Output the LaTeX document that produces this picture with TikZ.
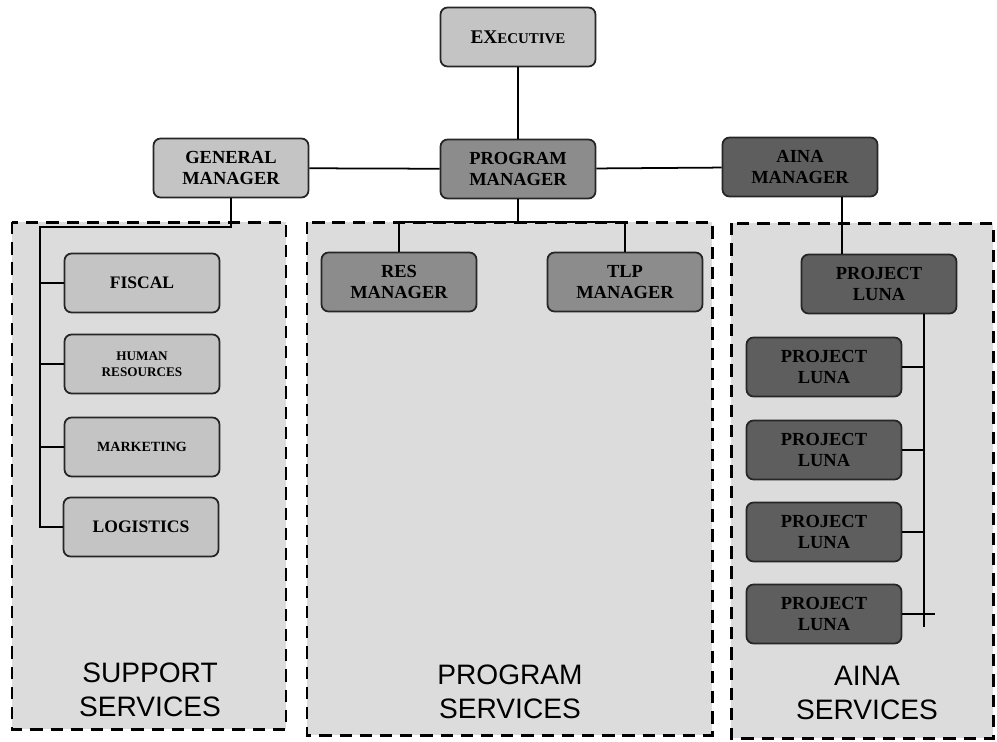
\documentclass[tikz,border=0pt]{standalone}
\usepackage{fontspec}
\setmainfont{Liberation Serif}
\setsansfont{Liberation Sans}
\definecolor{lightbox}{HTML}{C4C4C4}
\definecolor{midbox}{HTML}{8C8C8C}
\definecolor{darkbox}{HTML}{5E5E5E}
\definecolor{regionfill}{HTML}{DCDCDC}
\begin{document}
\begin{tikzpicture}[x=0.02cm,y=-0.02cm,
    box/.style={draw=black!85,line width=1pt,rounded corners=4pt,minimum width=3.1cm,minimum height=1.18cm,
      align=center,inner sep=2pt,font=\bfseries\fontsize{10.5}{11.5}\selectfont},
    light/.style={box,fill=lightbox},
    mid/.style={box,fill=midbox},
    dark/.style={box,fill=darkbox},
    region/.style={draw=black,line width=1.7pt,dash pattern=on 7pt off 4.5pt,fill=regionfill},
    link/.style={draw=black,line width=1pt},
    caption/.style={font=\sffamily\fontsize{16}{19.5}\selectfont,align=center}]
    \useasboundingbox (0,0) rectangle (997,741);
    \draw[region] (12,222) rectangle (286,729);
    \draw[region] (307,222) rectangle (712,735);
    \draw[region] (731,223) rectangle (993,738);

    \node[light] (exec) at (518,37) {{\fontsize{11}{12}\selectfont EX}{\fontsize{8.5}{10}\selectfont ECUTIVE}};
    \node[light] (genmgr) at (231,168) {GENERAL\\MANAGER};
    \node[mid] (progmgr) at (518,169) {PROGRAM\\MANAGER};
    \node[dark] (ainamgr) at (800,167) {AINA\\MANAGER};

    \node[light,font=\bfseries\fontsize{10}{11}\selectfont] (fiscal) at (142,283) {FISCAL};
    \node[light,font=\bfseries\fontsize{7.5}{9}\selectfont] (hr) at (142,364) {HUMAN\\RESOURCES};
    \node[light,font=\bfseries\fontsize{8}{9}\selectfont] (mkt) at (142,447) {MARKETING};
    \node[light,font=\bfseries\fontsize{10}{11}\selectfont] (logi) at (141,527) {LOGISTICS};

    \node[mid] (resmgr) at (399,282) {RES\\MANAGER};
    \node[mid] (tlpmgr) at (625,282) {TLP\\MANAGER};

    \node[dark] (luna0) at (879,284) {PROJECT\\LUNA};
    \node[dark] (luna1) at (824,367) {PROJECT\\LUNA};
    \node[dark] (luna2) at (824,450) {PROJECT\\LUNA};
    \node[dark] (luna3) at (824,532) {PROJECT\\LUNA};
    \node[dark] (luna4) at (824,614) {PROJECT\\LUNA};

    \coordinate (gmbus) at (40,227);
    \coordinate (pmbus) at (518,222);
    \coordinate (lunadrop) at (842,0);
    \coordinate (lunabus) at (924,0);
    \coordinate (lunaend) at (924,627);

    \draw[link] (exec) -- (progmgr);
    \draw[link] (genmgr) -- (progmgr);
    \draw[link] (progmgr) -- (ainamgr);

    \draw[link] (genmgr.south) |- (gmbus) |- (logi.west);
    \foreach \n in {fiscal,hr,mkt}
      \draw[link] (\n.west) -- (\n.west -| gmbus);

    \draw[link] (progmgr.south) -- (pmbus);
    \draw[link] (resmgr.north) -- (resmgr.north |- pmbus) -- (tlpmgr.north |- pmbus) -- (tlpmgr.north);

    \draw[link] (ainamgr.south -| lunadrop) -- (luna0.north -| lunadrop);
    \draw[link] (luna0.south -| lunabus) -- (lunaend);
    \foreach \n in {luna1,luna2,luna3}
      \draw[link] (\n.east) -- (\n.east -| lunabus);
    \draw[link] (luna4.east) -- ([xshift=6]luna4.east -| lunabus);

    \node[caption] (suplabel) at (150,690) {SUPPORT\\SERVICES};
    \node[caption] (proglabel) at (510,692) {PROGRAM\\SERVICES};
    \node[caption] (ainalabel) at (867,693) {AINA\\SERVICES};
\end{tikzpicture}
\end{document}
